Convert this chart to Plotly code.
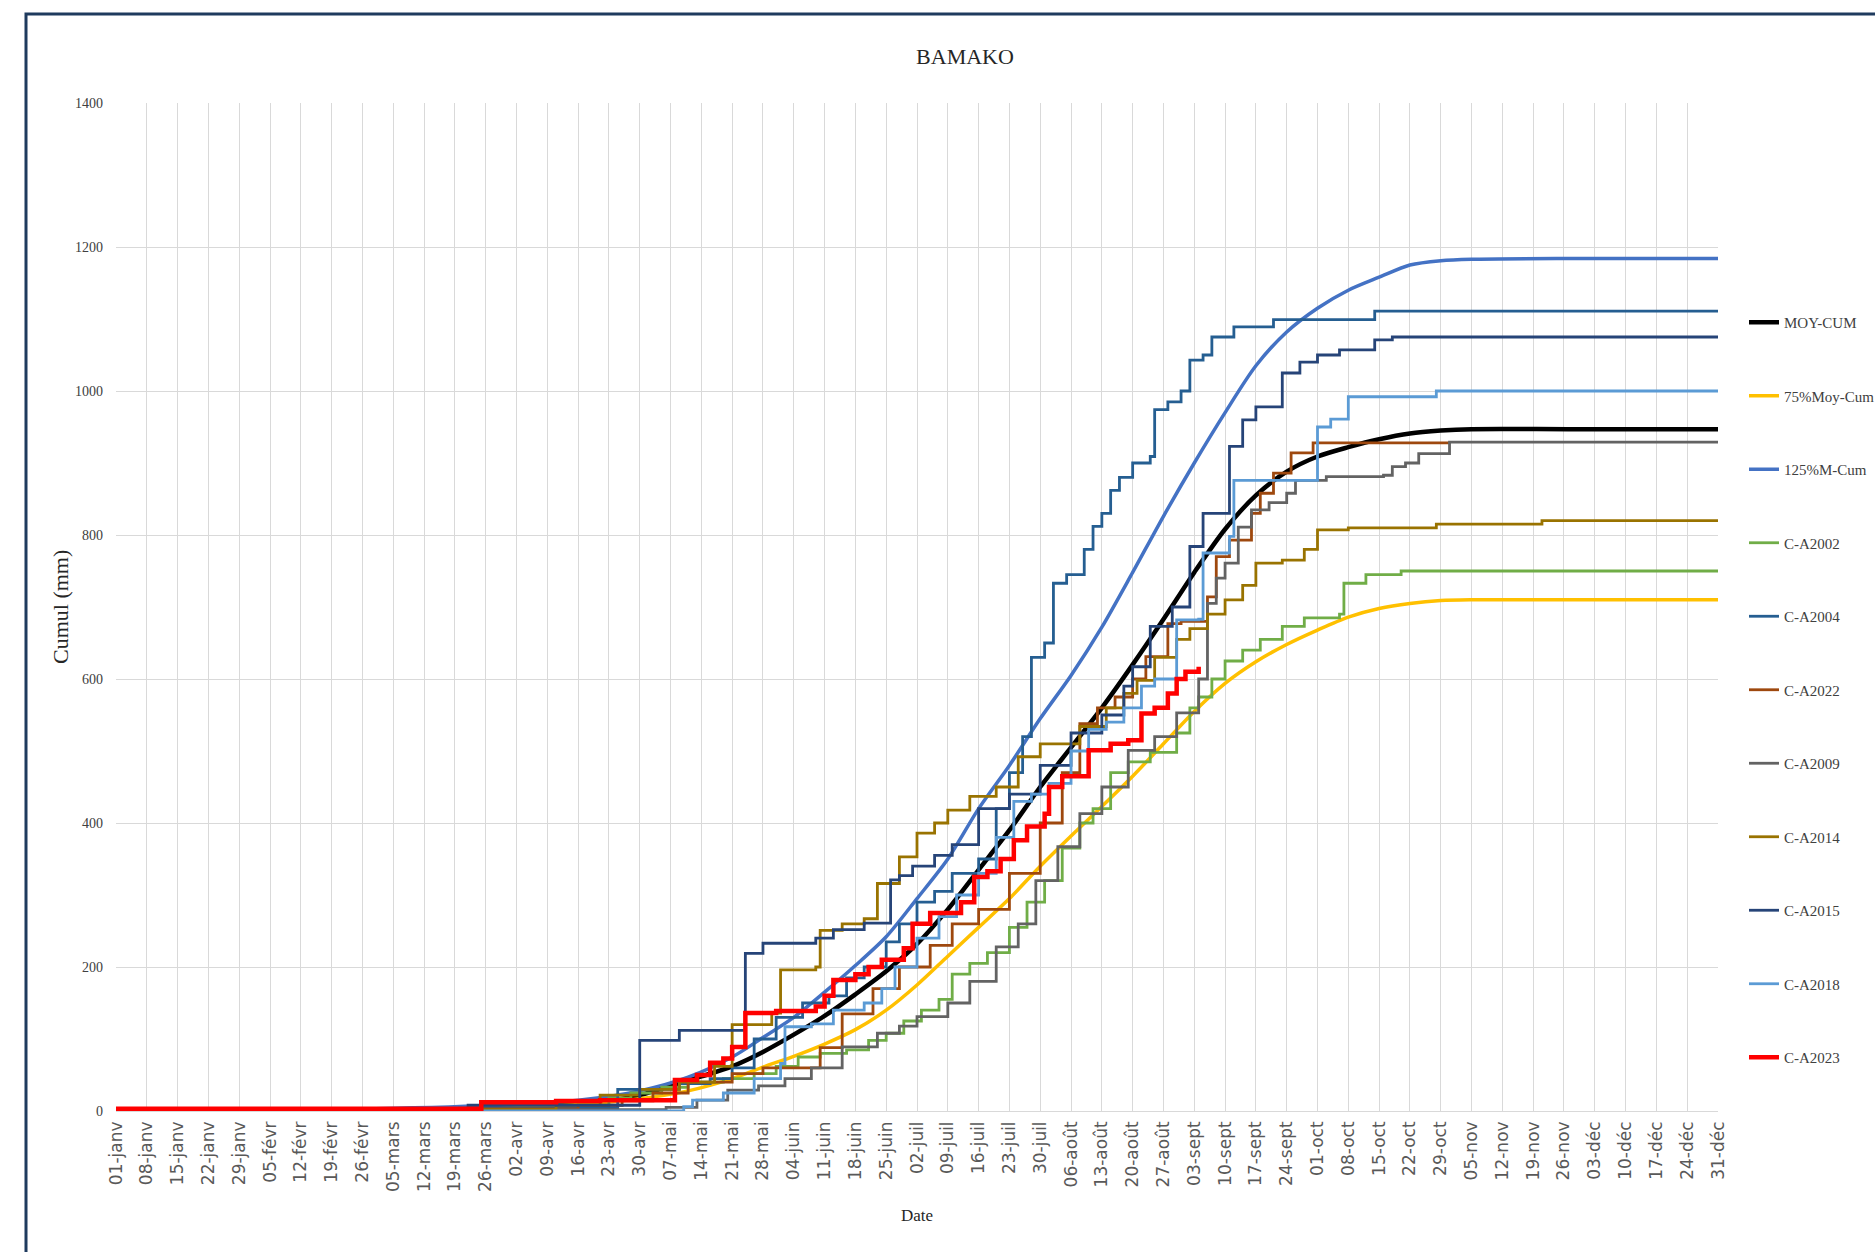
import pandas as pd
import plotly.graph_objects as go

ANNEE = "2023-01-01"

# Weekly x-axis ticks (day offsets from 1 January) and their French labels
tick_jours = list(range(0, 365, 7))
tick_labels = [
    "01-janv", "08-janv", "15-janv", "22-janv", "29-janv", "05-févr", "12-févr",
    "19-févr", "26-févr", "05-mars", "12-mars", "19-mars", "26-mars", "02-avr",
    "09-avr", "16-avr", "23-avr", "30-avr", "07-mai", "14-mai", "21-mai",
    "28-mai", "04-juin", "11-juin", "18-juin", "25-juin", "02-juil", "09-juil",
    "16-juil", "23-juil", "30-juil", "06-août", "13-août", "20-août", "27-août",
    "03-sept", "10-sept", "17-sept", "24-sept", "01-oct", "08-oct", "15-oct",
    "22-oct", "29-oct", "05-nov", "12-nov", "19-nov", "26-nov", "03-déc",
    "10-déc", "17-déc", "24-déc", "31-déc",
]

# Mean cumulative rainfall and the 75 % / 125 % envelopes (smooth curves)
moy_jours = [0, 31, 59, 80, 95, 105, 112, 119, 126, 133, 140, 147, 154, 161, 168,
             175, 182, 189, 196, 203, 210, 217, 224, 231, 238, 245, 252, 259, 266,
             273, 280, 287, 294, 301, 308, 330, 364]
moy_cumul = [0, 1, 2, 4, 7, 10, 14, 22, 35, 48, 62, 82, 106, 132, 162,
             194, 232, 280, 335, 390, 450, 505, 560, 620, 683, 748, 808, 855, 888,
             909, 922, 933, 941, 945, 947, 947, 947]

p75_jours = [0, 59, 90, 105, 119, 130, 140, 147, 154, 161, 168, 175, 182, 189, 196,
             203, 210, 217, 224, 231, 238, 245, 252, 259, 266, 273, 280, 287, 294,
             301, 308, 330, 364]
p75_cumul = [0, 2, 5, 9, 17, 28, 45, 61, 76, 93, 113, 140, 175, 215, 255,
             295, 340, 382, 423, 465, 510, 555, 594, 624, 648, 668, 686, 698, 705,
             709, 710, 710, 710]

p125_jours = [0, 59, 90, 105, 119, 130, 140, 147, 154, 161, 168, 175, 182, 189, 196,
              203, 210, 217, 224, 231, 238, 245, 252, 259, 266, 273, 280, 287, 294,
              301, 308, 330, 364]
p125_cumul = [0, 3, 9, 15, 28, 47, 75, 102, 130, 165, 202, 242, 295, 350, 420,
              480, 545, 605, 672, 748, 826, 900, 970, 1035, 1082, 1115, 1140, 1158, 1175,
              1181, 1183, 1184, 1184]

# Yearly cumulative rainfall (step series: day offset, cumulative mm)
a2002_jours = [0, 60, 85, 108, 112, 117, 124, 130, 138, 145, 150, 155, 160, 166, 171,
               175, 179, 183, 187, 190, 194, 198, 203, 207, 211, 215, 219, 222, 226,
               230, 235, 241, 244, 246, 249, 252, 256, 260, 265, 270, 278, 279, 284,
               292, 364]
a2002_cumul = [0, 1, 2, 5, 18, 25, 33, 40, 45, 52, 62, 75, 80, 85, 98,
               108, 125, 140, 155, 190, 205, 220, 255, 290, 320, 365, 400, 420, 470,
               485, 498, 525, 560, 575, 600, 625, 640, 655, 673, 685, 690, 733, 745,
               750, 750]

a2004_jours = [0, 78, 114, 128, 135, 140, 145, 150, 156, 162, 166, 170, 175, 178, 182,
               186, 190, 196, 200, 203, 206, 208, 211, 213, 216, 220, 222, 224, 226,
               228, 231, 235, 236, 239, 242, 244, 247, 249, 254, 263, 286, 364]
a2004_cumul = [0, 4, 30, 38, 45, 60, 100, 130, 150, 160, 185, 200, 235, 260, 290,
               305, 330, 350, 420, 470, 520, 630, 650, 733, 745, 780, 812, 830, 862,
               880, 900, 909, 974, 985, 1000, 1043, 1050, 1075, 1089, 1099, 1111, 1111]

a2022_jours = [0, 80, 105, 115, 122, 130, 140, 147, 160, 165, 172, 178, 185, 190, 196,
               203, 210, 215, 219, 223, 227, 231, 234, 239, 242, 248, 250, 253, 258,
               260, 263, 267, 272, 303]
a2022_cumul = [0, 3, 8, 14, 25, 40, 52, 60, 88, 135, 170, 200, 230, 260, 280,
               330, 400, 470, 538, 560, 575, 600, 631, 677, 680, 714, 770, 793, 830,
               858, 886, 914, 928, 928]

a2009_jours = [0, 100, 125, 132, 139, 146, 152, 158, 165, 173, 178, 182, 189, 194, 200,
               205, 209, 214, 219, 224, 230, 236, 241, 246, 248, 250, 252, 255, 258,
               262, 266, 268, 275, 288, 290, 293, 296, 303, 364]
a2009_cumul = [0, 2, 5, 15, 29, 35, 45, 60, 89, 108, 118, 131, 150, 180, 228,
               260, 320, 367, 413, 450, 501, 520, 553, 600, 705, 740, 761, 811, 835,
               845, 858, 876, 881, 883, 895, 900, 913, 929, 929]

a2014_jours = [0, 60, 100, 110, 119, 128, 136, 140, 149, 151, 159, 160, 165, 170, 173,
               178, 182, 186, 189, 194, 200, 205, 210, 219, 225, 229, 232, 236, 241,
               244, 248, 252, 256, 259, 265, 270, 273, 280, 300, 324, 364]
a2014_cumul = [0, 2, 8, 22, 30, 40, 62, 120, 136, 196, 200, 251, 260, 267, 316,
               353, 386, 400, 418, 437, 450, 492, 510, 534, 560, 580, 598, 630, 655,
               670, 690, 710, 730, 761, 765, 780, 807, 810, 815, 820, 820]

a2015_jours = [0, 75, 80, 119, 128, 143, 147, 159, 163, 170, 176, 178, 181, 186, 190,
               196, 203, 210, 217, 224, 229, 231, 235, 240, 244, 247, 253, 256, 259,
               265, 269, 273, 278, 286, 290, 364]
a2015_cumul = [0, 3, 8, 98, 112, 219, 233, 240, 252, 261, 321, 327, 340, 355, 370,
               420, 440, 480, 525, 550, 590, 617, 673, 700, 784, 830, 923, 960, 978,
               1025, 1040, 1050, 1057, 1071, 1075, 1075]

a2018_jours = [0, 128, 129, 131, 138, 145, 151, 152, 158, 163, 170, 174, 177, 182, 187,
               191, 196, 200, 204, 208, 212, 217, 221, 225, 229, 233, 236, 241, 246,
               247, 253, 254, 272, 273, 276, 280, 300, 364]
a2018_cumul = [0, 0, 6, 15, 25, 45, 66, 117, 121, 140, 150, 170, 200, 240, 270,
               300, 330, 380, 430, 440, 455, 500, 530, 540, 560, 590, 600, 682, 683,
               775, 798, 876, 876, 950, 961, 992, 1000, 1000]

a2023_jours = [0, 82, 83, 100, 110, 125, 127, 132, 135, 138, 140, 143, 150, 159, 161,
               163, 168, 171, 174, 179, 181, 185, 192, 195, 198, 201, 204, 207, 211,
               212, 215, 221, 226, 230, 233, 236, 239, 241, 243, 246]
a2023_cumul = [3, 3, 12, 14, 15, 15, 43, 50, 67, 73, 89, 136, 139, 145, 160,
               182, 190, 200, 210, 226, 260, 275, 290, 325, 333, 350, 376, 395, 413,
               450, 465, 501, 510, 515, 552, 560, 580, 600, 610, 617]

base = pd.Timestamp(ANNEE)


def to_dates(jours):
    return base + pd.to_timedelta(jours, unit="D")


series = [
    ("MOY-CUM", moy_jours, moy_cumul, "#000000", 4.5, "spline"),
    ("75%Moy-Cum", p75_jours, p75_cumul, "#FFC000", 3.5, "spline"),
    ("125%M-Cum", p125_jours, p125_cumul, "#4472C4", 3.5, "spline"),
    ("C-A2002", a2002_jours, a2002_cumul, "#70AD47", 2.8, "hv"),
    ("C-A2004", a2004_jours, a2004_cumul, "#255E91", 2.8, "hv"),
    ("C-A2022", a2022_jours, a2022_cumul, "#9E480E", 2.8, "hv"),
    ("C-A2009", a2009_jours, a2009_cumul, "#636363", 2.8, "hv"),
    ("C-A2014", a2014_jours, a2014_cumul, "#997300", 2.8, "hv"),
    ("C-A2015", a2015_jours, a2015_cumul, "#264478", 2.8, "hv"),
    ("C-A2018", a2018_jours, a2018_cumul, "#5B9BD5", 2.8, "hv"),
    ("C-A2023", a2023_jours, a2023_cumul, "#FF0000", 4.5, "hv"),
]

fig = go.Figure()
for nom, jours, cumul, couleur, largeur, forme in series:
    ligne = dict(color=couleur, width=largeur, shape=forme)
    if forme == "spline":
        ligne["smoothing"] = 0.8
    fig.add_trace(go.Scatter(
        x=to_dates(jours), y=cumul, mode="lines", name=nom,
        legendgroup=nom, line=ligne,
    ))

SERIF = "Liberation Serif, Times New Roman, serif"
WIDE = "DejaVu Sans, Arial, sans-serif"

W, H = 1875, 1252
L, R, T, B = 116, 157, 103, 141
pw, ph = W - L - R, H - T - B


def px_x(px):
    return (px - L) / pw


def px_y(py):
    return (H - B - py) / ph


fig.update_layout(
    width=W, height=H,
    margin=dict(l=L, r=R, t=T, b=B, autoexpand=False),
    paper_bgcolor="white", plot_bgcolor="white",
    title=dict(text="BAMAKO", font=dict(family=SERIF, size=22, color="#262626"),
               xref="paper", x=px_x(965), xanchor="center",
               yref="container", y=1 - 56 / H, yanchor="middle"),
    xaxis=dict(
        type="date",
        range=[to_dates([0])[0], to_dates([364])[0]],
        tickmode="array", tickvals=to_dates(tick_jours), ticktext=tick_labels,
        tickangle=-90, tickfont=dict(family=WIDE, size=17, color="#595959"),
        showgrid=True, gridcolor="#D9D9D9", gridwidth=1,
        showline=False, zeroline=False, ticks="", ticklabelstandoff=6,
        automargin=False,
    ),
    yaxis=dict(
        range=[0, 1400], dtick=200, tickformat="d",
        tickfont=dict(family=SERIF, size=14, color="#404040"),
        showgrid=True, gridcolor="#D9D9D9", gridwidth=1,
        zeroline=True, zerolinecolor="#D9D9D9", zerolinewidth=1,
        showline=False, ticks="", ticklabelstandoff=12,
        automargin=False,
    ),
    legend=dict(
        x=px_x(1744), xanchor="left", y=px_y(306), yanchor="top",
        font=dict(family=SERIF, size=15, color="#404040"),
        tracegroupgap=51, itemwidth=30, bgcolor="rgba(0,0,0,0)",
    ),
    annotations=[
        dict(text="Cumul (mm)", xref="paper", yref="paper",
             x=px_x(60), y=0.5, xanchor="center", yanchor="middle",
             textangle=-90, showarrow=False,
             font=dict(family=SERIF, size=22, color="#262626")),
        dict(text="Date", xref="paper", yref="paper",
             x=0.5, y=px_y(1215), xanchor="center", yanchor="middle",
             showarrow=False,
             font=dict(family=SERIF, size=17, color="#262626")),
    ],
    shapes=[
        dict(type="rect", xref="paper", yref="paper",
             x0=px_x(26), x1=px_x(1900), y0=px_y(1275), y1=px_y(14),
             line=dict(color="#1F3B5E", width=3), layer="below"),
    ],
    showlegend=True,
)

fig.write_html("out.html")
